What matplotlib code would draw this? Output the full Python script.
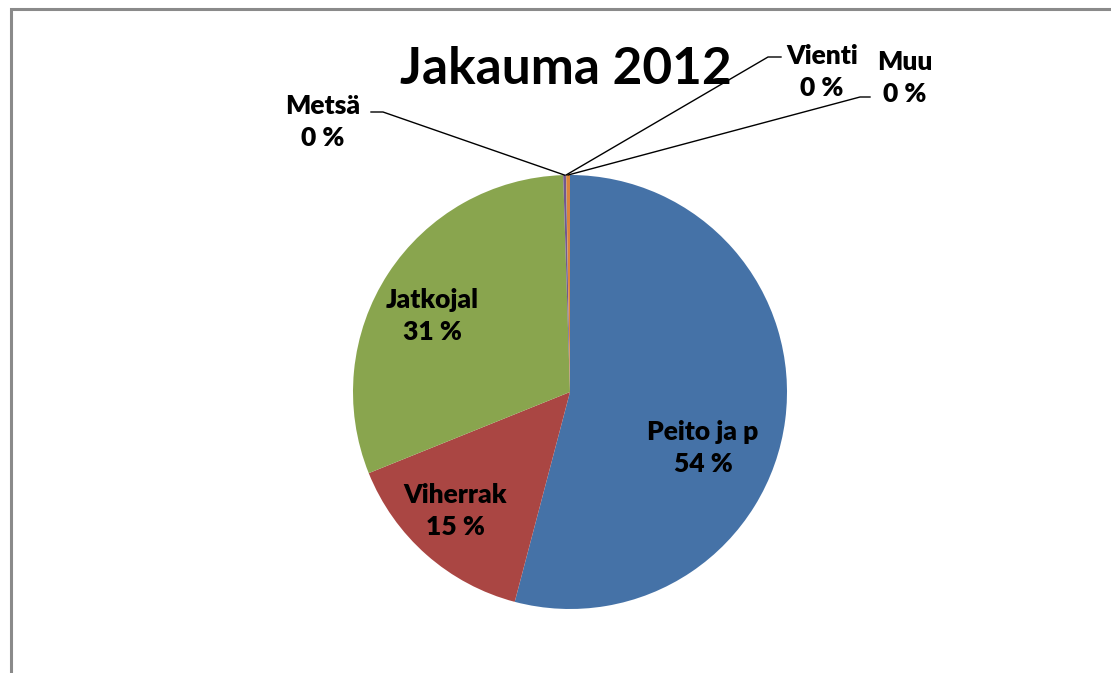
import matplotlib
matplotlib.use("Agg")
import matplotlib.pyplot as plt
import numpy as np

# slice data (share of total, %)
labels = ["Peito ja p", "Viherrak", "Jatkojal", "Metsä", "Vienti", "Muu"]
values = [54.1, 14.8, 30.6, 0.2, 0.02, 0.28]
colors = ["#4572A7", "#AA4643", "#89A54E", "#71588F", "#4198AF", "#DB843D"]

plt.rcParams['font.family'] = ['Lato', 'DejaVu Sans']

W, H = 1111, 673
fig = plt.figure(figsize=(W / 100, H / 100), dpi=100)

# chart frame (cut off at right and bottom like the screenshot)
fig.patches.append(plt.Rectangle((10.5 / W, -0.1), 1.2, 1 - 9.5 / H + 0.1,
                                 transform=fig.transFigure, fill=False,
                                 edgecolor="#8a8a8a", linewidth=2.2))

cx, cy, r = 570, 392, 217
ax = fig.add_axes([(cx - r) / W, (H - cy - r) / H, 2 * r / W, 2 * r / H])
wedges, _ = ax.pie(values, colors=colors, startangle=90, counterclock=False,
                   radius=1, wedgeprops=dict(linewidth=0))
ax.set_xlim(-1, 1)
ax.set_ylim(-1, 1)
ax.set_aspect("equal")
ax.axis("off")

total = sum(values)
pct = [f"{round(v / total * 100):.0f} %" for v in values]

def px(x, y):
    return (x - cx) / r, (cy - y) / r

lbl = dict(ha="center", va="center", fontsize=19, fontweight="heavy",
           linespacing=1.4, color="#000000")

# labels inside the big slices
inside = {0: (703, 448), 1: (455, 511), 2: (432, 316)}
for i, (x, y) in inside.items():
    ax.text(*px(x, y), f"{labels[i]}\n{pct[i]}", **lbl)

# outside labels with leader lines for the tiny slices
outside = {3: ((323, 122), (371, 112), (383, 112)),
           4: ((822, 72), (781, 57), (768, 57)),
           5: ((905, 78), (870, 97), (860, 97))}
for i, ((tx, ty), p1, p2) in outside.items():
    w = wedges[i]
    mid = np.deg2rad((w.theta1 + w.theta2) / 2)
    end = (np.cos(mid), np.sin(mid))
    xs = [px(*p1)[0], px(*p2)[0], end[0]]
    ys = [px(*p1)[1], px(*p2)[1], end[1]]
    ax.plot(xs, ys, color="#000000", linewidth=1.0, clip_on=False)
    ax.text(*px(tx, ty), f"{labels[i]}\n{pct[i]}", **lbl)

fig.text(566 / W, 1 - 69 / H, "Jakauma 2012", ha="center", va="center",
         fontsize=37, fontweight="bold")

fig.savefig("out.png", dpi=100, facecolor="white")
